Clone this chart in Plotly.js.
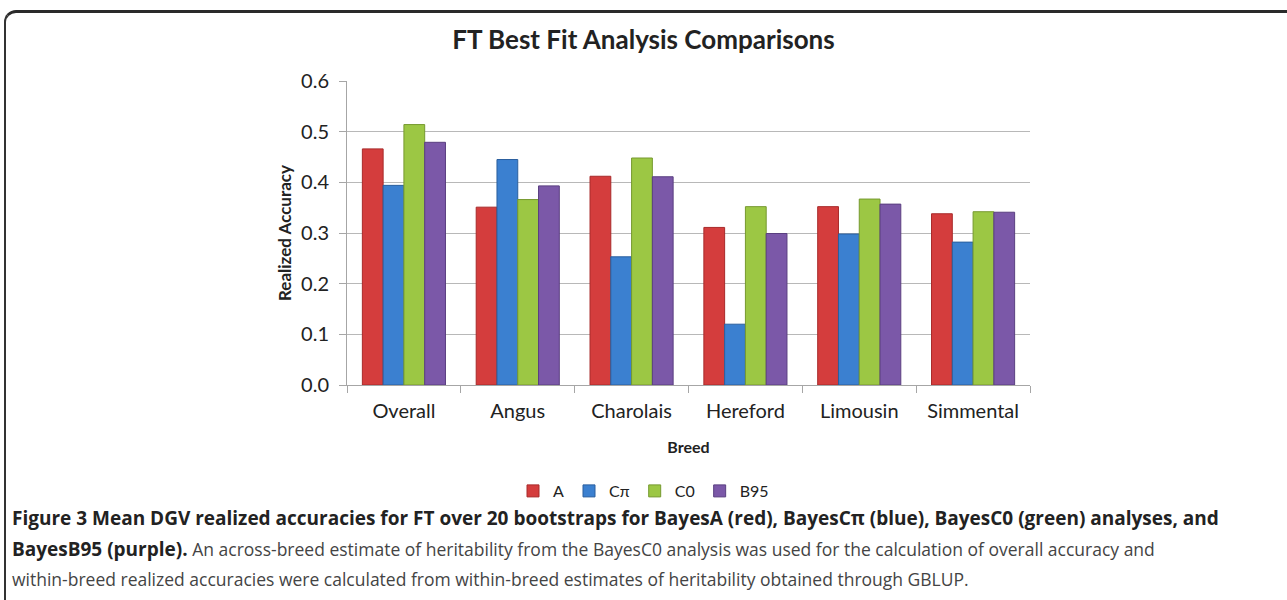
<!DOCTYPE html>
<html>
<head>
<meta charset="utf-8">
<script src="https://cdn.plot.ly/plotly-3.0.1.min.js"></script>
<style>
  html, body { margin: 0; padding: 0; background: #fff; }
  #wrap { position: relative; width: 1287px; height: 600px; overflow: hidden; }
  #chart { width: 1287px; height: 600px; }
  #frame { position: absolute; left: 4px; top: 10px; width: 1300px; height: 620px;
           border-left: 2px solid #333; border-top: 3px solid #2a2a2a;
           border-top-left-radius: 12px; pointer-events: none; }
</style>
</head>
<body>
<div id="wrap">
  <div id="chart"></div>
  <div id="frame"></div>
</div>
<script>
const breeds = ["Overall", "Angus", "Charolais", "Hereford", "Limousin", "Simmental"];
const seriesNames = ["A", "C\u03c0", "C0", "B95"];
const valuesA   = [0.466, 0.351, 0.412, 0.311, 0.352, 0.338];
const valuesCpi = [0.394, 0.445, 0.253, 0.120, 0.298, 0.282];
const valuesC0  = [0.514, 0.366, 0.448, 0.352, 0.367, 0.342];
const valuesB95 = [0.479, 0.393, 0.411, 0.299, 0.357, 0.341];
const yTicks = [0, 0.1, 0.2, 0.3, 0.4, 0.5, 0.6];

const colors = ["#d43d3d", "#3b80d0", "#9cc744", "#7b58a8"];
const edges  = ["#a82a2a", "#2a5f9e", "#76992f", "#5a3f80"];
const allValues = [valuesA, valuesCpi, valuesC0, valuesB95];

const traces = allValues.map((vals, i) => ({
  type: "bar",
  name: seriesNames[i],
  x: breeds,
  y: vals,
  marker: { color: colors[i], line: { color: edges[i], width: 1 } },
  hoverinfo: "x+y+name"
}));

const W = 1287, H = 600;
const mL = 347, mR = 257, mT = 81, mB = 215;
const plotW = W - mL - mR;
const px = v => (v - mL) / plotW;             // container px -> paper x
const py = v => 1 - (v - mT) / (H - mT - mB);  // container px -> paper y

const capFont = "Open Sans, sans-serif";
const layout = {
  width: W, height: H,
  margin: { l: mL, r: mR, t: mT, b: mB },
  paper_bgcolor: "#ffffff",
  plot_bgcolor: "#ffffff",
  font: { family: "Lato, sans-serif", color: "#222" },
  title: {
    text: "<b>FT Best Fit Analysis Comparisons</b>",
    font: { family: "Lato, sans-serif", size: 26, color: "#222" },
    x: 0.5, xref: "container", xanchor: "center",
    y: 1 - 40 / H, yref: "container", yanchor: "middle"
  },
  barmode: "group",
  bargap: 0.27,
  bargroupgap: 0,
  xaxis: {
    type: "category",
    showline: true, linecolor: "#a6a6a6", linewidth: 1,
    ticks: "outside", tickson: "boundaries", ticklen: 7, tickcolor: "#a6a6a6",
    ticklabelstandoff: 8,
    tickfont: { size: 20, color: "#222" },
    showgrid: false,
    title: { text: "<b>Breed</b>", font: { size: 16, color: "#222" }, standoff: 20 },
    automargin: false
  },
  yaxis: {
    range: [0, 0.6],
    tickvals: yTicks,
    tickformat: ".1f",
    showline: true, linecolor: "#a6a6a6", linewidth: 1,
    ticks: "outside", ticklen: 7, tickcolor: "#a6a6a6",
    ticklabelstandoff: 6,
    tickfont: { size: 20, color: "#222" },
    showgrid: true, gridcolor: "#b8b8b8", gridwidth: 1,
    zeroline: false,
    title: { text: "<b>Realized Accuracy</b>", font: { size: 17, color: "#222" }, standoff: 5 },
    automargin: false
  },
  legend: {
    orientation: "h",
    x: 0.5, xref: "container", xanchor: "center",
    y: 1 - 491 / H, yref: "container", yanchor: "middle",
    font: { size: 16, color: "#222" },
    itemwidth: 30,
    traceorder: "normal"
  },
  showlegend: true,
  annotations: [
    {
      xref: "paper", yref: "paper", x: px(10), y: py(518),
      xanchor: "left", yanchor: "middle", showarrow: false, align: "left",
      font: { family: capFont, size: 19, color: "#222" },
      text: "<b>Figure 3 Mean DGV realized accuracies for FT over 20 bootstraps for BayesA (red), BayesC\u03c0 (blue), BayesC0 (green) analyses, and</b>"
    },
    {
      xref: "paper", yref: "paper", x: px(10), y: py(549),
      xanchor: "left", yanchor: "middle", showarrow: false, align: "left",
      font: { family: capFont, size: 17.5, color: "#444" },
      text: "<b><span style='color:#222;font-size:19px'>BayesB95 (purple).</span></b> An across-breed estimate of heritability from the BayesC0 analysis was used for the calculation of overall accuracy and"
    },
    {
      xref: "paper", yref: "paper", x: px(10), y: py(579),
      xanchor: "left", yanchor: "middle", showarrow: false, align: "left",
      font: { family: capFont, size: 17.5, color: "#444" },
      text: "within-breed realized accuracies were calculated from within-breed estimates of heritability obtained through GBLUP."
    }
  ]
};

Plotly.newPlot("chart", traces, layout, { displayModeBar: false, staticPlot: true });
</script>
</body>
</html>
